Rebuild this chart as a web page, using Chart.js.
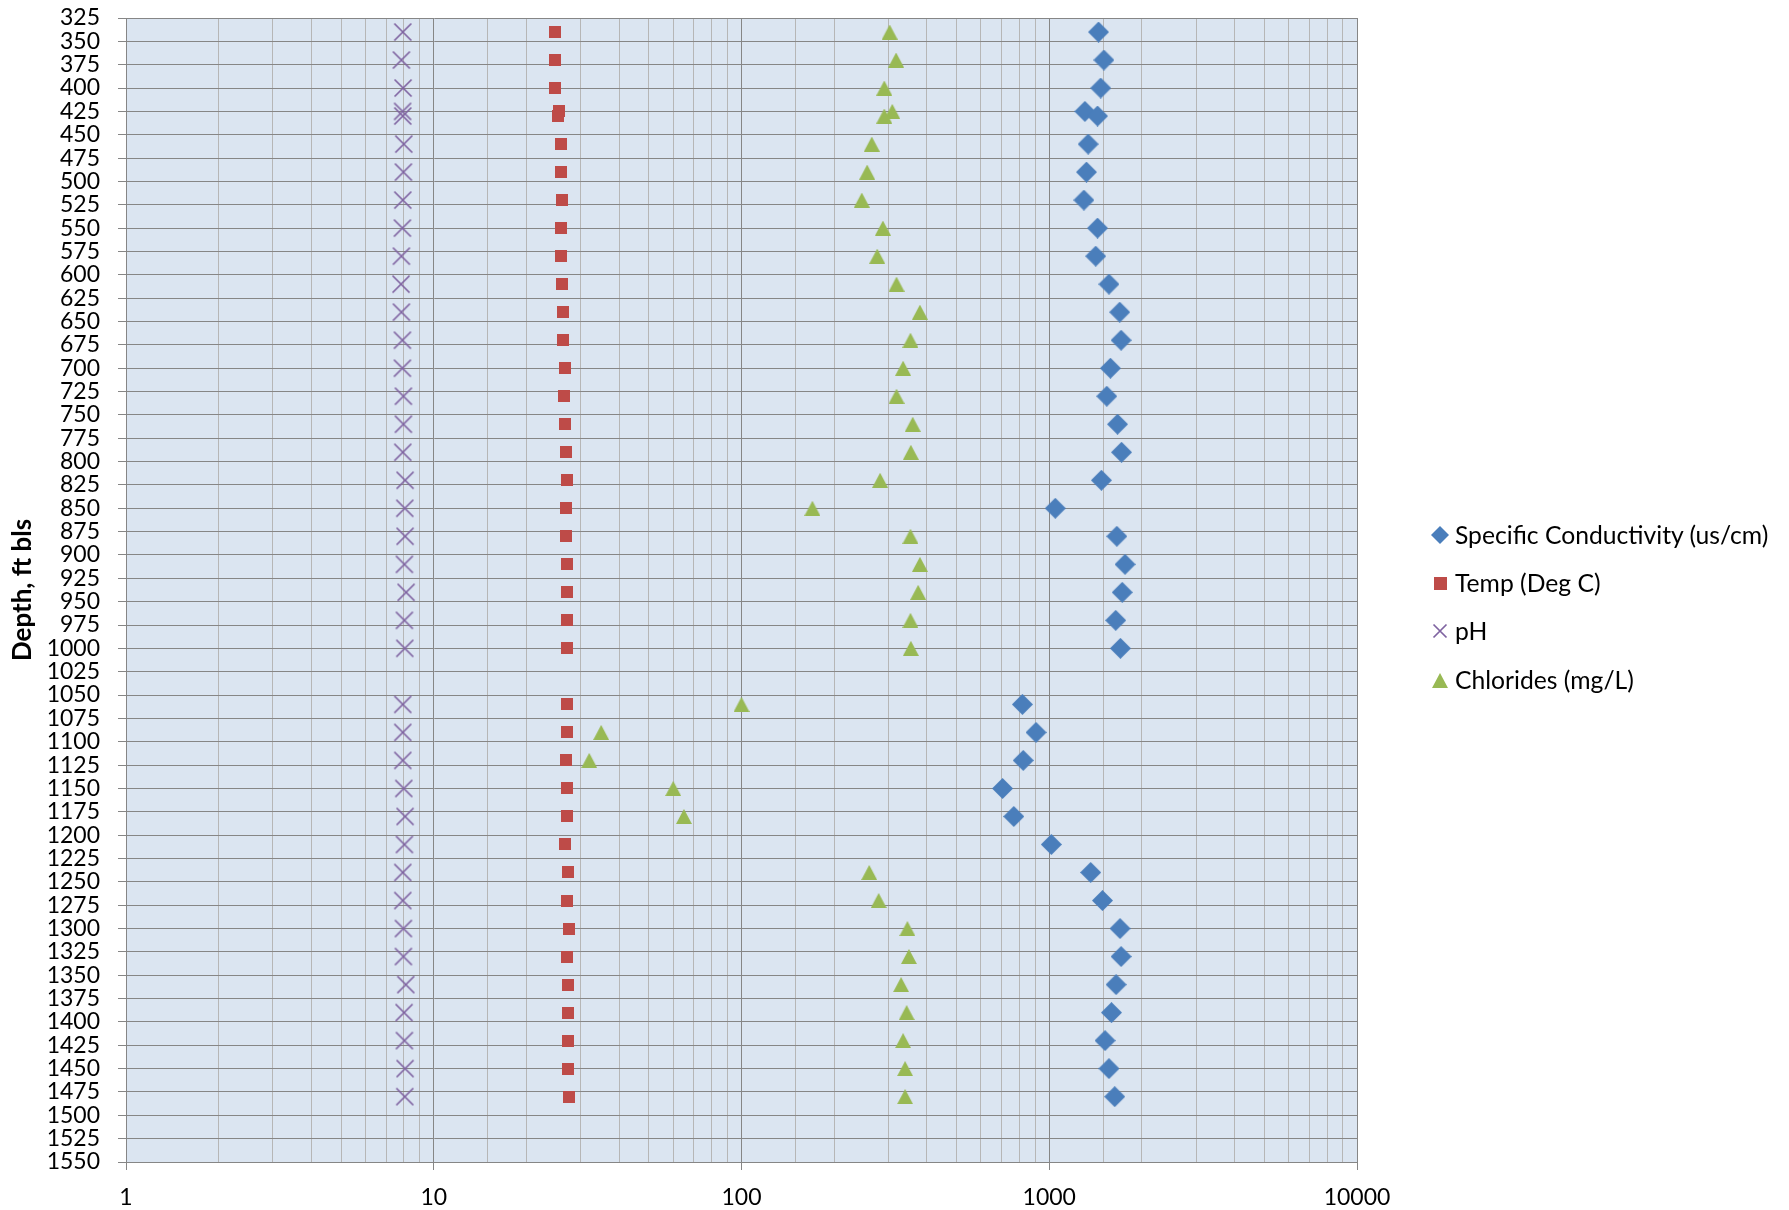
<!DOCTYPE html>
<html>
<head>
<meta charset="utf-8">
<title>Water quality by depth</title>
<script src="https://cdn.jsdelivr.net/npm/chart.js@4/dist/chart.umd.min.js"></script>
<style>
  html, body { margin: 0; padding: 0; background: #ffffff; }
  #wrap { position: relative; width: 1789px; height: 1210px; overflow: hidden; }
  #chart { position: absolute; left: 0; top: 0; }
  .legend-item { position: absolute; height: 30px; }
  .legend-item canvas { position: absolute; }
  .legend-item span {
    position: absolute; white-space: nowrap;
    font-family: Lato, "Open Sans", sans-serif; font-size: 24.7px; line-height: 30px; color: #000;
  }
</style>
</head>
<body>
<div id="wrap">
  <canvas id="chart" width="1789" height="1210"></canvas>
  <div id="legend"></div>
</div>
<script>
// Sample depths (ft below land surface)
const depthFt = [340, 370, 400, 425, 430, 460, 490, 520, 550, 580, 610, 640, 670, 700, 730,
  760, 790, 820, 850, 880, 910, 940, 970, 1000, 1060, 1090, 1120, 1150, 1180, 1210,
  1240, 1270, 1300, 1330, 1360, 1390, 1420, 1450, 1480];

// Specific conductivity, us/cm
const conductivity = [1446, 1505, 1470, 1306, 1435, 1338, 1321, 1296, 1435, 1416, 1563, 1694, 1712, 1580, 1538,
  1667, 1717, 1477, 1046, 1658, 1763, 1726, 1644, 1703, 818, 906, 823, 705, 767, 1016,
  1363, 1489, 1698, 1712, 1649, 1593, 1518, 1563, 1632];

// Temperature, deg C
const tempC = [24.7, 24.8, 24.8, 25.5, 25.3, 25.9, 25.9, 26.1, 25.9, 26.0, 26.1, 26.3, 26.4, 26.6, 26.5,
  26.6, 26.8, 27.0, 26.9, 26.9, 27.0, 27.1, 27.0, 27.1, 27.0, 27.1, 26.9, 27.1, 27.0, 26.6,
  27.3, 27.2, 27.5, 27.2, 27.4, 27.3, 27.3, 27.4, 27.5];

// pH
const pH = [7.93, 7.85, 7.95, 7.92, 7.93, 7.99, 7.97, 7.93, 7.91, 7.85, 7.83, 7.85, 7.91, 7.91, 7.97,
  7.97, 7.93, 8.07, 8.05, 8.07, 8.03, 8.13, 8.03, 8.05, 7.93, 7.93, 7.93, 7.99, 8.07, 8.03,
  7.93, 7.93, 7.97, 7.97, 8.11, 8.01, 8.03, 8.07, 8.05];

// Chlorides, mg/L (no sample at 1210 ft)
const chlorides = [303, 318, 291, 309, 291, 265, 256, 246, 288, 276, 319, 380, 354, 335, 319,
  360, 355, 282, 170, 354, 380, 375, 354, 355, 100, 35, 32, 60, 65, null,
  260, 279, 346, 350, 330, 344, 335, 340, 340];

const seriesNames = ['Specific Conductivity (us/cm)', 'Temp (Deg C)', 'pH', 'Chlorides (mg/L)'];
const xTickLabels = [1, 10, 100, 1000, 10000];
const depthRange = [325, 1550];
const depthStep = 25;

const FONT = 'Lato, "Open Sans", sans-serif';
const MAJOR_LINE = '#868686';
const MINOR_LINE = '#b6b6b6';
const PLOT_BG = '#dbe5f1';

// Marker bitmaps used as point styles
function makeMarker(kind, color, s) {
  const c = document.createElement('canvas');
  const ctx = c.getContext('2d');
  if (kind === 'diamond') {
    c.width = c.height = Math.round(21 * s);
    const w = c.width;
    ctx.fillStyle = color;
    ctx.beginPath();
    ctx.moveTo(w / 2, 0); ctx.lineTo(w, w / 2); ctx.lineTo(w / 2, w); ctx.lineTo(0, w / 2);
    ctx.closePath(); ctx.fill();
  } else if (kind === 'square') {
    c.width = c.height = Math.round(12 * s);
    ctx.fillStyle = color;
    ctx.fillRect(0, 0, c.width, c.height);
  } else if (kind === 'cross') {
    c.width = c.height = Math.round(20 * s);
    const w = c.width;
    ctx.strokeStyle = color; ctx.lineWidth = 1.7;
    ctx.beginPath();
    ctx.moveTo(1.5, 1.5); ctx.lineTo(w - 1.5, w - 1.5);
    ctx.moveTo(w - 1.5, 1.5); ctx.lineTo(1.5, w - 1.5);
    ctx.stroke();
  } else {
    c.width = Math.round(16 * s); c.height = Math.round(15 * s);
    ctx.fillStyle = color;
    ctx.beginPath();
    ctx.moveTo(c.width / 2, 0); ctx.lineTo(c.width, c.height); ctx.lineTo(0, c.height);
    ctx.closePath(); ctx.fill();
  }
  return c;
}

const seriesStyle = [
  { kind: 'diamond', color: '#4a7ebb', legendScale: 0.87 },
  { kind: 'square', color: '#be4b48', legendScale: 1.08 },
  { kind: 'cross', color: '#7f63a1', legendScale: 0.82 },
  { kind: 'triangle', color: '#98b954', legendScale: 1.0 }
];
const seriesValues = [conductivity, tempC, pH, chlorides];

function toPoints(values) {
  const pts = [];
  values.forEach((v, i) => { if (v !== null) pts.push({ x: v, y: depthFt[i] }); });
  return pts;
}

const datasets = seriesValues.map((vals, k) => ({
  label: seriesNames[k],
  data: toPoints(vals),
  pointStyle: makeMarker(seriesStyle[k].kind, seriesStyle[k].color, 1),
  pointRadius: 10,
  pointHoverRadius: 10,
  backgroundColor: seriesStyle[k].color,
  borderColor: seriesStyle[k].color,
  showLine: false,
  order: 4 - k
}));

const isDecade = v => {
  const l = Math.log10(v);
  return Math.abs(l - Math.round(l)) < 1e-9;
};

const plotBackground = {
  id: 'plotBackground',
  beforeDraw(chart) {
    const { ctx, chartArea: a } = chart;
    ctx.save();
    ctx.fillStyle = PLOT_BG;
    ctx.fillRect(a.left, a.top, a.right - a.left, a.bottom - a.top);
    ctx.restore();
  }
};

const chart = new Chart(document.getElementById('chart'), {
  type: 'scatter',
  data: { datasets },
  plugins: [plotBackground],
  options: {
    responsive: false,
    animation: false,
    events: [],
    layout: { padding: { left: 0, top: 18, right: 432, bottom: 0 } },
    plugins: { legend: { display: false }, tooltip: { enabled: false } },
    scales: {
      x: {
        type: 'logarithmic',
        position: 'bottom',
        min: xTickLabels[0],
        max: xTickLabels[xTickLabels.length - 1],
        border: { color: MAJOR_LINE, width: 1 },
        grid: {
          color: c => (c.tick && isDecade(c.tick.value)) ? MAJOR_LINE : MINOR_LINE,
          lineWidth: 1,
          tickLength: 8,
          tickColor: c => (c.tick && isDecade(c.tick.value)) ? MAJOR_LINE : 'rgba(0,0,0,0)'
        },
        ticks: {
          autoSkip: false,
          maxRotation: 0,
          padding: 14,
          color: '#000',
          font: { family: FONT, size: 23 },
          callback: v => xTickLabels.some(t => Math.abs(t - v) < 1e-6) ? String(Math.round(v)) : ''
        },
        afterFit: s => { s.height = 48; }
      },
      y: {
        type: 'linear',
        position: 'left',
        reverse: true,
        min: depthRange[0],
        max: depthRange[1],
        border: { color: MAJOR_LINE, width: 1 },
        grid: { color: MAJOR_LINE, lineWidth: 1, tickLength: 8, tickColor: MAJOR_LINE },
        ticks: {
          stepSize: depthStep,
          autoSkip: false,
          padding: 18,
          color: '#000',
          font: { family: FONT, size: 23 },
          callback: v => String(v)
        },
        title: {
          display: true,
          text: 'Depth, ft bls',
          color: '#000',
          font: { family: FONT, size: 26, weight: 'bold' },
          padding: { top: 7, bottom: 0 }
        },
        afterFit: s => { s.width = 126; s.paddingTop = 0; s.paddingBottom = 0; }
      }
    }
  }
});

// Legend built from the chart's datasets
const legendRows = [535, 583, 631, 680];
const legendEl = document.getElementById('legend');
chart.data.datasets.forEach((ds, k) => {
  const st = seriesStyle[k];
  const item = document.createElement('div');
  item.className = 'legend-item';
  item.style.left = '0px';
  item.style.top = (legendRows[k] - 15) + 'px';
  const m = makeMarker(st.kind, st.color, st.legendScale);
  m.style.left = (1440 - m.width / 2) + 'px';
  m.style.top = (15 - m.height / 2) + 'px';
  const label = document.createElement('span');
  label.textContent = ds.label;
  label.style.left = '1455px';
  label.style.top = '0px';
  item.appendChild(m);
  item.appendChild(label);
  legendEl.appendChild(item);
});
</script>
</body>
</html>
